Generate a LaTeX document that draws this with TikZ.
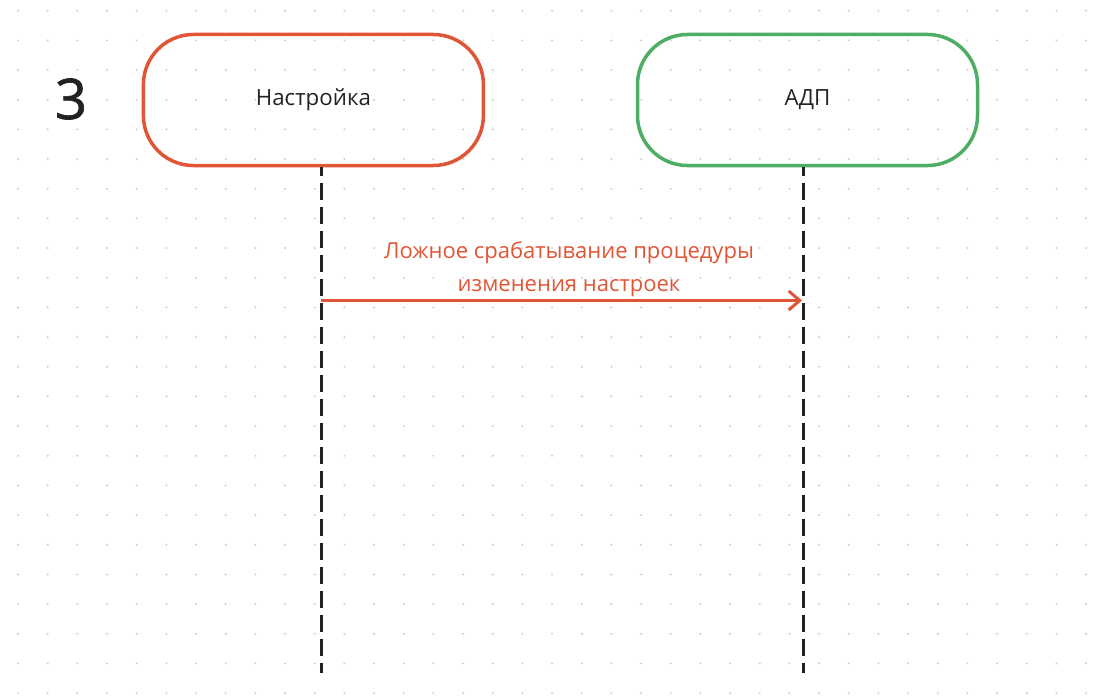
\documentclass[tikz,border=0pt]{standalone}
\usepackage{fontspec}
\setmainfont{Open Sans}
\newfontfamily\numfont[FakeBold=1.2]{Open Sans}
\usetikzlibrary{arrows.meta,positioning}
\definecolor{nred}{HTML}{E05535}
\definecolor{ngreen}{HTML}{4DAD62}
\definecolor{ntext}{HTML}{222222}
\definecolor{ndot}{HTML}{CDCDCD}
\newcommand{\txt}{\fontsize{22.3}{26}\selectfont}

\begin{document}
\begin{tikzpicture}[x=1pt,y=-1pt,
  actor/.style={draw,line width=3.5pt,rounded corners=50pt,minimum width=340pt,
    minimum height=131pt,text=ntext,font=\txt},
  life/.style={ntext,line width=3pt,dash pattern=on 17pt off 7pt,dash phase=8pt},
  msg/.style={nred,line width=3pt,-{Straight Barb[length=11pt,width=19pt,line width=3pt]}}]
  \useasboundingbox (0,0) rectangle (1108,698);
  \foreach \i in {0,...,36}
    \foreach \j in {0,...,23}
      \fill[ndot] (18+29.67*\i, 10.7+29.67*\j) circle(1.1);
  \node[ntext,font=\numfont\fontsize{56}{60}\selectfont] (num) at (71,99) {3};
  \node[actor,nred] (nastr) at (313.4,100) {\textcolor{ntext}{Настройка}};
  \node[actor,ngreen] (adp) at (807.5,100) {\textcolor{ntext}{АДП}};
  \coordinate (nastr top) at (321,167);
  \coordinate (nastr bot) at (321,673);
  \coordinate (adp top) at (803,167);
  \coordinate (adp bot) at (803,673);
  \draw[life] (nastr top) -- (nastr bot);
  \draw[life] (adp top) -- (adp bot);
  \coordinate (m from) at (321,300.5);
  \coordinate (m to) at (802,300.5);
  \draw[msg] (m from) -- (m to);
  \node[nred,font=\fontsize{22}{33}\selectfont,align=center,anchor=south] (mlabel)
    at (569,300) {Ложное срабатывание процедуры\\изменения настроек};
\end{tikzpicture}
\end{document}
